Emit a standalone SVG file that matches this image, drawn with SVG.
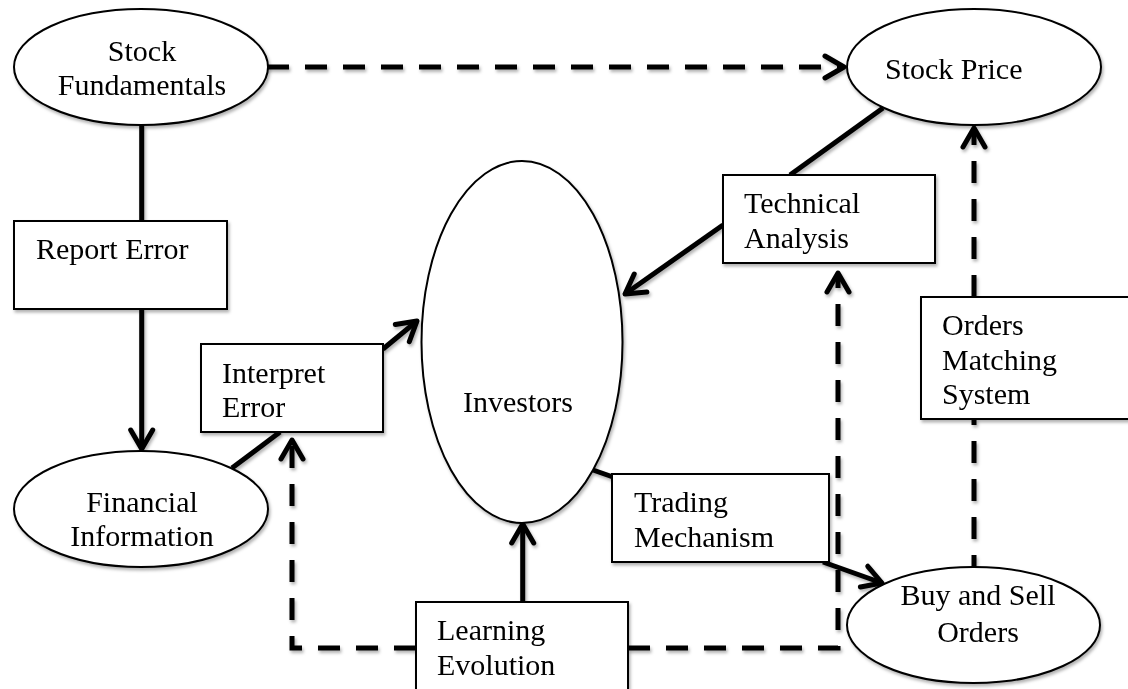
<svg xmlns="http://www.w3.org/2000/svg" width="1128" height="689" viewBox="0 0 1128 689">
<style>
.shape{fill:#fff;stroke:#000;stroke-width:2}
.lbl{font-family:"Liberation Serif","Times New Roman",serif;font-size:30px;fill:#000}
.mid{text-anchor:middle}
.solid{fill:none;stroke:#000;stroke-width:5}
.dash{fill:none;stroke:#000;stroke-width:5;stroke-dasharray:22 16}
.head{fill:none;stroke:#000;stroke-width:5;stroke-linecap:round;stroke-linejoin:round}
</style>
<defs>
<filter id="sh" x="-10%" y="-10%" width="130%" height="130%">
<feDropShadow dx="1.5" dy="2.5" stdDeviation="1.5" flood-color="#000" flood-opacity="0.3"/>
</filter>
<marker id="arr" markerUnits="userSpaceOnUse" markerWidth="40" markerHeight="40" viewBox="-30 -20 40 40" refX="0" refY="0" orient="auto" overflow="visible">
<path class="head" d="M-19,-11 L0,0 L-19,11"/>
</marker>
</defs>
<rect width="1128" height="689" fill="#fff"/>

<g id="connectors" filter="url(#sh)">
<line class="solid" x1="141.7" y1="125" x2="141.7" y2="221"/>
<line class="solid" x1="141.7" y1="309" x2="141.7" y2="449" marker-end="url(#arr)"/>
<line class="solid" x1="232" y1="468" x2="280" y2="432"/>
<line class="solid" x1="383" y1="349" x2="417" y2="321" marker-end="url(#arr)"/>
<line class="dash" x1="267" y1="67" x2="844" y2="67" marker-end="url(#arr)"/>
<line class="solid" x1="883" y1="108" x2="790" y2="175"/>
<line class="solid" x1="723" y1="225" x2="625" y2="294" marker-end="url(#arr)"/>
<line class="solid" x1="593" y1="470" x2="613" y2="477"/>
<line class="solid" x1="823" y1="562" x2="882" y2="583" marker-end="url(#arr)"/>
<line class="dash" x1="974" y1="567" x2="974" y2="419" style="stroke-dashoffset:10"/>
<line class="dash" x1="974" y1="297" x2="974" y2="128" marker-end="url(#arr)"/>
<line class="solid" x1="522.7" y1="602" x2="522.7" y2="524" marker-end="url(#arr)"/>
<polyline class="dash" points="416,648 292,648 292,440" marker-end="url(#arr)"/>
<polyline class="dash" points="628,648 838,648 838,273" marker-end="url(#arr)"/>
</g>

<g id="stock-fundamentals" filter="url(#sh)">
<ellipse class="shape" cx="141" cy="67" rx="127" ry="58"/>
<text class="lbl mid" x="142" y="61">Stock</text>
<text class="lbl mid" x="142" y="95">Fundamentals</text>
</g>

<g id="stock-price" filter="url(#sh)">
<ellipse class="shape" cx="974" cy="67" rx="127" ry="58"/>
<text class="lbl" x="885" y="79">Stock Price</text>
</g>

<g id="report-error" filter="url(#sh)">
<rect class="shape" x="14" y="221" width="213" height="88"/>
<text class="lbl" x="36" y="259">Report Error</text>
</g>

<g id="financial-information" filter="url(#sh)">
<ellipse class="shape" cx="141" cy="509" rx="127" ry="58"/>
<text class="lbl mid" x="142" y="512">Financial</text>
<text class="lbl mid" x="142" y="546">Information</text>
</g>

<g id="interpret-error" filter="url(#sh)">
<rect class="shape" x="201" y="344" width="182" height="88"/>
<text class="lbl" x="222" y="383">Interpret</text>
<text class="lbl" x="222" y="417">Error</text>
</g>

<g id="investors" filter="url(#sh)">
<ellipse class="shape" cx="522" cy="342" rx="100.5" ry="181"/>
<text class="lbl" x="463" y="412">Investors</text>
</g>

<g id="technical-analysis" filter="url(#sh)">
<rect class="shape" x="723" y="175" width="212" height="88"/>
<text class="lbl" x="744" y="213">Technical</text>
<text class="lbl" x="744" y="248">Analysis</text>
</g>

<g id="orders-matching-system" filter="url(#sh)">
<rect class="shape" x="921" y="297" width="214" height="122"/>
<text class="lbl" x="942" y="335">Orders</text>
<text class="lbl" x="942" y="370">Matching</text>
<text class="lbl" x="942" y="404">System</text>
</g>

<g id="trading-mechanism" filter="url(#sh)">
<rect class="shape" x="612" y="474" width="217" height="88"/>
<text class="lbl" x="634" y="512">Trading</text>
<text class="lbl" x="634" y="547">Mechanism</text>
</g>

<g id="learning-evolution" filter="url(#sh)">
<rect class="shape" x="416" y="602" width="212" height="100"/>
<text class="lbl" x="437" y="640">Learning</text>
<text class="lbl" x="437" y="675">Evolution</text>
</g>

<g id="buy-and-sell-orders" filter="url(#sh)">
<ellipse class="shape" cx="973.5" cy="625" rx="126.5" ry="58"/>
<text class="lbl mid" x="978" y="605">Buy and Sell</text>
<text class="lbl mid" x="978" y="642">Orders</text>
</g>
</svg>
